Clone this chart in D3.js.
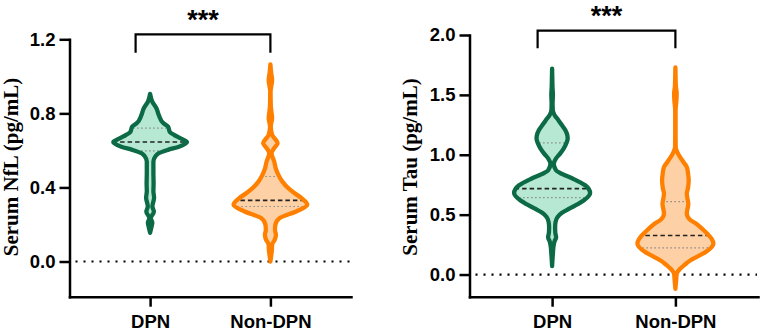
<!DOCTYPE html>
<html>
<head>
<meta charset="utf-8">
<script src="https://cdn.jsdelivr.net/npm/d3@7"></script>
<style>
  body { margin: 0; background: #fff; }
  svg text { font-family: "Liberation Sans", Arial, sans-serif; font-weight: bold; fill: #000; }
  .ytitle { font-family: "Liberation Serif", "Times New Roman", serif; }
</style>
</head>
<body>
<div id="chart"></div>
<script>
// categories + ticks
const groups = ["DPN", "Non-DPN"];
const nflTicks = [0, 0.4, 0.8, 1.2];
const tauTicks = [0, 0.5, 1.0, 1.5, 2.0];

// violin outlines: [value, relative density]
const nflDPN = [[0.155,0],[0.19,0.04],[0.21,0.058],[0.234,0.02],[0.27,0.1],[0.297,0.06],[0.344,0.105],[0.38,0.087],[0.42,0.092],[0.48,0.087],[0.54,0.087],[0.567,0.137],[0.585,0.23],[0.603,0.47],[0.62,0.76],[0.645,0.97],[0.666,0.79],[0.684,0.63],[0.70,0.52],[0.729,0.47],[0.747,0.35],[0.79,0.23],[0.828,0.166],[0.863,0.058],[0.905,0]];
const nflNon = [[0.0,0],[0.03,0.02],[0.063,0.04],[0.09,0.045],[0.12,0.12],[0.144,0.145],[0.17,0.12],[0.198,0.13],[0.234,0.24],[0.27,0.68],[0.306,0.97],[0.342,0.82],[0.37,0.63],[0.396,0.47],[0.43,0.32],[0.468,0.21],[0.50,0.145],[0.54,0.1],[0.585,0.03],[0.61,0.09],[0.639,0.19],[0.66,0.13],[0.684,0.045],[0.729,0.01],[0.774,0.045],[0.81,0.026],[0.846,0.01],[0.918,0.005],[0.98,0.045],[1.02,0.02],[1.065,0]];
const tauDPN = [[0.07,0],[0.117,0.008],[0.17,0.02],[0.229,0.034],[0.28,0.066],[0.31,0.105],[0.35,0.084],[0.396,0.079],[0.44,0.092],[0.48,0.145],[0.515,0.26],[0.55,0.45],[0.585,0.66],[0.62,0.84],[0.68,1.0],[0.745,0.87],[0.80,0.55],[0.84,0.26],[0.87,0.105],[0.926,0.045],[0.968,0.1],[1.01,0.21],[1.05,0.3],[1.10,0.38],[1.136,0.41],[1.17,0.395],[1.205,0.35],[1.25,0.25],[1.289,0.166],[1.33,0.066],[1.372,0.018],[1.43,0.013],[1.5,0.021],[1.57,0.01],[1.65,0.005],[1.72,0]];
const tauNon = [[-0.12,0],[-0.05,0.02],[0.006,0.034],[0.048,0.124],[0.08,0.24],[0.117,0.39],[0.15,0.58],[0.187,0.79],[0.26,1.0],[0.30,0.95],[0.34,0.84],[0.38,0.71],[0.424,0.55],[0.46,0.38],[0.51,0.3],[0.55,0.32],[0.59,0.34],[0.63,0.32],[0.675,0.3],[0.72,0.33],[0.787,0.35],[0.84,0.335],[0.898,0.3],[0.94,0.21],[0.98,0.124],[1.02,0.053],[1.065,0.008],[1.2,0.005],[1.37,0.005],[1.45,0.026],[1.51,0.034],[1.57,0.013],[1.65,0.005],[1.73,0]];

// [lower quartile, median, upper quartile]
const nflDPNStats = [0.597, 0.645, 0.72];
const nflNonStats = [0.297, 0.33, 0.459];
const tauDPNStats = [0.642, 0.717, 1.099];
const tauNonStats = [0.223, 0.326, 0.608];

const colors = [
  { stroke: "#0c6b46", fill: "#b6e8d4" },
  { stroke: "#ff8000", fill: "#fdd1a5" }
];

const W = 760, H = 331, axisBottom = 296.7;

const svg = d3.select("#chart").append("svg")
  .attr("width", W)
  .attr("height", H);

const panels = [
  { key: "nfl", title: "Serum NfL (pg/mL)", ticks: nflTicks, domain: [-0.19, 1.2], top: 39.3,
    left: 69.5, right: 351, titleX: 17.5, profiles: [nflDPN, nflNon], stats: [nflDPNStats, nflNonStats],
    bracketY: 34.3, bracketDrop: 18.4, starY: 28.5 },
  { key: "tau", title: "Serum Tau (pg/mL)", ticks: tauTicks, domain: [-0.185, 2.0], top: 35,
    left: 469.5, right: 758, titleX: 416.5, profiles: [tauDPN, tauNon], stats: [tauDPNStats, tauNonStats],
    bracketY: 30.7, bracketDrop: 17.6, starY: 25 }
];

panels.forEach(drawPanel);

function drawPanel(p) {
  const g = svg.append("g");

  const y = d3.scaleLinear().domain(p.domain).range([axisBottom, p.top]);
  const x = d3.scalePoint().domain(groups).range([p.left, p.right]).padding(0.67);
  const w = d3.scaleLinear().domain([0, 1]).range([0, 38]);

  // dotted zero line
  g.append("line")
    .attr("x1", p.left + 6).attr("x2", p.right - 1)
    .attr("y1", y(0)).attr("y2", y(0))
    .attr("stroke", "#000")
    .attr("stroke-width", 2.2)
    .attr("stroke-dasharray", "2 6");

  groups.forEach((grp, i) => {
    const cx = x(grp);
    const st = p.stats[i];
    const area = d3.area()
      .curve(d3.curveMonotoneY)
      .y(d => y(d[0]))
      .x0(d => cx - w(d[1]))
      .x1(d => cx + w(d[1]));
    const shape = area(p.profiles[i]);
    const clipId = "clip-" + p.key + "-" + i;

    g.append("clipPath").attr("id", clipId)
      .append("path").attr("d", shape);

    g.append("path")
      .attr("d", shape)
      .attr("fill", colors[i].fill);

    const inner = g.append("g").attr("clip-path", "url(#" + clipId + ")");
    [st[0], st[2]].forEach(q => {
      inner.append("line")
        .attr("x1", cx - 45).attr("x2", cx + 45)
        .attr("y1", y(q)).attr("y2", y(q))
        .attr("stroke", "#8a8a8a")
        .attr("stroke-width", 1.2)
        .attr("stroke-dasharray", "1.5 2.5");
    });
    inner.append("line")
      .attr("x1", cx - 45).attr("x2", cx + 45)
      .attr("y1", y(st[1])).attr("y2", y(st[1]))
      .attr("stroke", "#222")
      .attr("stroke-width", 1.6)
      .attr("stroke-dasharray", "4.5 3");

    g.append("path")
      .attr("d", shape)
      .attr("fill", "none")
      .attr("stroke", colors[i].stroke)
      .attr("stroke-width", 4.3)
      .attr("stroke-linejoin", "round");
  });

  // y axis
  const yAxis = g.append("g")
    .attr("transform", "translate(" + p.left + ",0)")
    .call(d3.axisLeft(y).tickValues(p.ticks).tickFormat(d3.format(".1f"))
      .tickSize(10).tickSizeOuter(0).tickPadding(4));

  // x axis
  const xAxis = g.append("g")
    .attr("transform", "translate(0," + axisBottom + ")")
    .call(d3.axisBottom(x).tickSize(10).tickSizeOuter(0).tickPadding(8.5));

  [yAxis, xAxis].forEach(a => {
    a.select(".domain").attr("stroke", "#000").attr("stroke-width", 2.5).attr("stroke-linecap", "square");
    a.selectAll(".tick line").attr("stroke", "#000").attr("stroke-width", 2.5);
    a.selectAll("text").attr("font-size", 18.5).attr("fill", "#000");
  });

  // y title
  g.append("text")
    .attr("class", "ytitle")
    .attr("transform", "translate(" + p.titleX + ",167) rotate(-90)")
    .attr("text-anchor", "middle")
    .attr("font-size", 21)
    .text(p.title);

  // significance bracket
  const bx0 = x(groups[0]) - 14.5, bx1 = x(groups[1]);
  g.append("path")
    .attr("d", "M" + bx0 + "," + (p.bracketY + p.bracketDrop) + "V" + p.bracketY +
      "H" + bx1 + "V" + (p.bracketY + p.bracketDrop))
    .attr("fill", "none")
    .attr("stroke", "#000")
    .attr("stroke-width", 2.2);

  g.append("text")
    .attr("x", (bx0 + bx1) / 2)
    .attr("y", p.starY)
    .attr("text-anchor", "middle")
    .attr("font-size", 27)
    .text("***");
}
</script>
</body>
</html>
